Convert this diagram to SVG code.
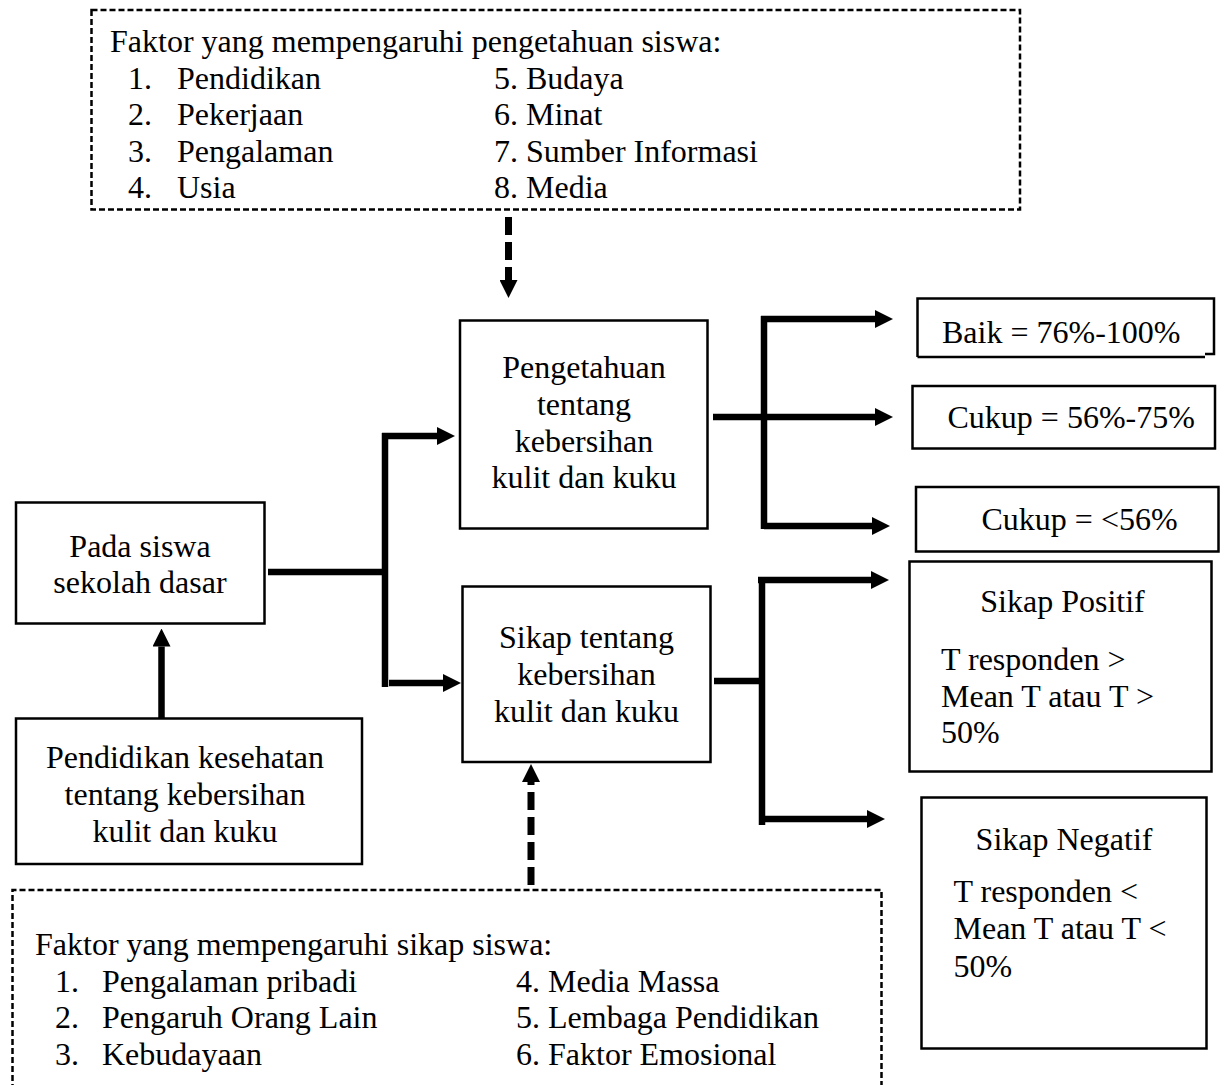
<svg xmlns="http://www.w3.org/2000/svg" width="1226" height="1085" viewBox="0 0 1226 1085">
<defs>
<style>
text{font-family:"Liberation Serif","Times New Roman",serif;font-size:32px;fill:#000}
.c{text-anchor:middle}
.box{fill:#fff;stroke:#000;stroke-width:2.5}
.dbox{fill:none;stroke:#000;stroke-width:2.5;stroke-dasharray:6 3}
.ln{fill:none;stroke:#000;stroke-width:6.5}
.dl{fill:none;stroke:#000;stroke-width:7;stroke-dasharray:18 7}
</style>
<marker id="ah" markerUnits="userSpaceOnUse" markerWidth="18" markerHeight="18" refX="0" refY="9" orient="auto" viewBox="0 0 18 18">
<path d="M0,0 L18,9 L0,18 Z" fill="#000"/>
</marker>
</defs>
<rect width="1226" height="1085" fill="#fff"/>

<g id="faktor-pengetahuan">
<rect class="dbox" x="91.5" y="10" width="928.5" height="199.5"/>
<text x="110" y="52">Faktor yang mempengaruhi pengetahuan siswa:</text>
<text x="128" y="88.5">1.</text><text x="177" y="88.5">Pendidikan</text>
<text x="128" y="125">2.</text><text x="177" y="125">Pekerjaan</text>
<text x="128" y="161.5">3.</text><text x="177" y="161.5">Pengalaman</text>
<text x="128" y="198">4.</text><text x="177" y="198">Usia</text>
<text x="494" y="88.5">5. Budaya</text>
<text x="494" y="125">6. Minat</text>
<text x="494" y="161.5">7. Sumber Informasi</text>
<text x="494" y="198">8. Media</text>
</g>

<g id="pengetahuan">
<rect class="box" x="460" y="320.5" width="247.5" height="208"/>
<text class="c" x="584" y="378">Pengetahuan</text>
<text class="c" x="584" y="415">tentang</text>
<text class="c" x="584" y="451.5">kebersihan</text>
<text class="c" x="584" y="488">kulit dan kuku</text>
</g>

<g id="sikap">
<rect class="box" x="462.5" y="586.5" width="248" height="175.5"/>
<text class="c" x="586.5" y="648">Sikap tentang</text>
<text class="c" x="586.5" y="685">kebersihan</text>
<text class="c" x="586.5" y="721.5">kulit dan kuku</text>
</g>

<g id="pada-siswa">
<rect class="box" x="16" y="502.5" width="248.5" height="121"/>
<text class="c" x="140" y="556.5">Pada siswa</text>
<text class="c" x="140" y="593">sekolah dasar</text>
</g>

<g id="pendidikan-kesehatan">
<rect class="box" x="16" y="718.5" width="346" height="145.5"/>
<text class="c" x="185" y="768">Pendidikan kesehatan</text>
<text class="c" x="185" y="805">tentang kebersihan</text>
<text class="c" x="185" y="841.5">kulit dan kuku</text>
</g>

<g id="baik">
<path d="M917.5 357 V298.5 H1214 V354 H1205 M917.5 357 H1205" fill="#fff" stroke="#000" stroke-width="2.5"/>
<text x="942" y="343">Baik = 76%-100%</text>
</g>

<g id="cukup">
<rect class="box" x="912.5" y="386" width="302.5" height="62.5"/>
<text x="947.5" y="427.5">Cukup = 56%-75%</text>
</g>

<g id="kurang">
<rect class="box" x="916" y="487" width="302.5" height="64.5"/>
<text x="981.5" y="530">Cukup = &lt;56%</text>
</g>

<g id="sikap-positif">
<rect class="box" x="909.5" y="561.5" width="302" height="210"/>
<text class="c" x="1062.5" y="611.5">Sikap Positif</text>
<text x="941" y="670">T responden &gt;</text>
<text x="941" y="706.5">Mean T atau T &gt;</text>
<text x="941" y="742.5">50%</text>
</g>

<g id="sikap-negatif">
<rect class="box" x="921.5" y="797.5" width="285" height="251"/>
<text class="c" x="1064" y="850">Sikap Negatif</text>
<text x="953.5" y="901.5">T responden &lt;</text>
<text x="953.5" y="939">Mean T atau T &lt;</text>
<text x="953.5" y="976.5">50%</text>
</g>

<g id="faktor-sikap">
<path class="dbox" d="M12.5 1090 V890 H881.5 V1090"/>
<text x="35" y="955">Faktor yang mempengaruhi sikap siswa:</text>
<text x="55" y="991.5">1.</text><text x="102" y="991.5">Pengalaman pribadi</text>
<text x="55" y="1028">2.</text><text x="102" y="1028">Pengaruh Orang Lain</text>
<text x="55" y="1064.5">3.</text><text x="102" y="1064.5">Kebudayaan</text>
<text x="516" y="991.5">4. Media Massa</text>
<text x="516" y="1028">5. Lembaga Pendidikan</text>
<text x="516" y="1064.5">6. Faktor Emosional</text>
</g>

<g id="connectors">
<line class="dl" x1="508.5" y1="217" x2="508.5" y2="280" marker-end="url(#ah)"/>
<line class="dl" x1="531" y1="885" x2="531" y2="782" marker-end="url(#ah)"/>
<line class="ln" x1="161.5" y1="718" x2="161.5" y2="646.5" marker-end="url(#ah)"/>
<line class="ln" x1="268" y1="572" x2="385" y2="572"/>
<line class="ln" x1="385" y1="433" x2="385" y2="687"/>
<line class="ln" x1="382" y1="436" x2="437" y2="436" marker-end="url(#ah)"/>
<line class="ln" x1="389" y1="683" x2="443" y2="683" marker-end="url(#ah)"/>
<line class="ln" x1="713" y1="417" x2="875" y2="417" marker-end="url(#ah)"/>
<line class="ln" x1="764" y1="316" x2="764" y2="529"/>
<line class="ln" x1="761" y1="319" x2="875" y2="319" marker-end="url(#ah)"/>
<line class="ln" x1="764" y1="526" x2="872" y2="526" marker-end="url(#ah)"/>
<line class="ln" x1="714" y1="681" x2="762" y2="681"/>
<line class="ln" x1="762" y1="577" x2="762" y2="825"/>
<line class="ln" x1="758" y1="580" x2="871" y2="580" marker-end="url(#ah)"/>
<line class="ln" x1="762" y1="819" x2="867" y2="819" marker-end="url(#ah)"/>
</g>
</svg>
